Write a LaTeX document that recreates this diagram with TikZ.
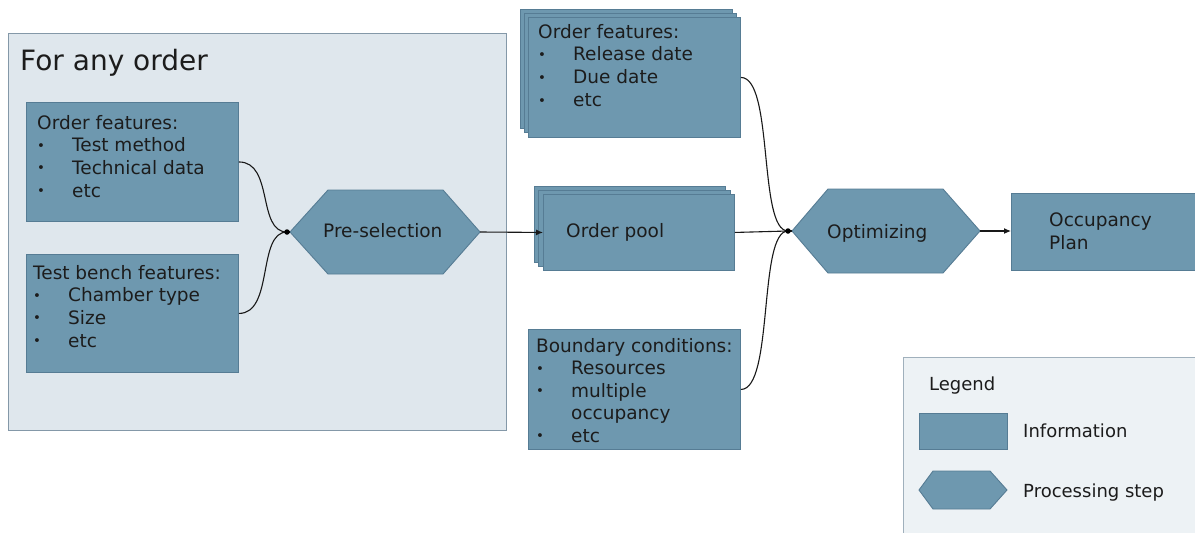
\documentclass[tikz,border=0pt]{standalone}
\usepackage{fontspec}
\setmainfont{DejaVu Sans}
\usetikzlibrary{arrows.meta}

\definecolor{infofill}{RGB}{110,152,175}
\definecolor{infoedge}{RGB}{86,124,148}
\definecolor{groupfill}{RGB}{223,231,237}
\definecolor{groupedge}{RGB}{132,152,168}
\definecolor{legendfill}{RGB}{237,242,245}
\definecolor{legendedge}{RGB}{160,176,188}
\definecolor{ink}{RGB}{28,28,28}

% small bullet followed by the item indent
\newcommand\itm{\makebox[35pt][l]{\raisebox{1.5pt}{\scalebox{0.72}{\textbullet}}}}

\begin{document}
\begin{tikzpicture}[x=1pt,y=-1pt,
  info/.style={draw=infoedge,fill=infofill,line width=0.9pt},
  infobox/.style 2 args={info,anchor=north west,inner sep=0pt,
    minimum width=#1,minimum height=#2},
  txt/.style={anchor=base west,inner sep=0pt,text=ink,
    font=\fontsize{18.5}{22}\selectfont},
  conn/.style={draw=black!90,line width=1.1pt},
  arr/.style={conn,-{Latex[length=7pt,width=6pt]}},
  dot/.style={circle,fill=black,inner sep=0pt,minimum size=5.5pt}]

\useasboundingbox (0,0) rectangle (1195,533);
\fill[white] (0,0) rectangle (1195,533);

% ---- group "For any order"
\node[draw=groupedge,fill=groupfill,line width=0.9pt,anchor=north west,
  inner sep=0pt,minimum width=498pt,minimum height=397pt] (group) at (8,33) {};
\node[txt,font=\fontsize{28}{32}\selectfont] (grouptitle) at (20,70) {For any order};

% order features (static)
\node[infobox={212pt}{119pt}] (ofa) at (26,102) {};
\foreach \t [count=\i from 0] in {{Order features:},{\itm Test method},{\itm Technical data},{\itm etc}}
  \node[txt] (ofa-\i) at (37,129+22.7*\i) {\t};

% test bench features
\node[infobox={212pt}{118pt}] (tb) at (26,254) {};
\foreach \t [count=\i from 0] in {{Test bench features:},{\itm Chamber type},{\itm Size},{\itm etc}}
  \node[txt] (tb-\i) at (33,279+22.7*\i) {\t};

% pre-selection step
\coordinate (preW) at (290,232);
\coordinate (preE) at (480,232);
\path[info] (preW) -- (328,190) -- (443,190) -- (preE) -- (443,274) -- (328,274) -- cycle;
\node[txt] (pre) at (323,237) {Pre-selection};

% ---- order features (dynamic), stacked
\node[infobox={212pt}{119pt}] (ofb3) at (520,9) {};
\node[infobox={212pt}{119pt}] (ofb2) at (524,13) {};
\node[infobox={212pt}{120pt}] (ofb) at (528,17) {};
\foreach \t [count=\i from 0] in {{Order features:},{\itm Release date},{\itm Due date},{\itm etc}}
  \node[txt] (ofb-\i) at (538,38+22.9*\i) {\t};

% order pool, stacked
\node[infobox={191pt}{76pt}] (pool3) at (534,186) {};
\node[infobox={192pt}{76pt}] (pool2) at (538,190) {};
\node[infobox={191pt}{76pt}] (pool) at (543,194) {};
\node[txt] (pooltext) at (566,237) {Order pool};

% boundary conditions
\node[infobox={212pt}{120pt}] (bc) at (528,329) {};
\foreach \t [count=\i from 0] in {{Boundary conditions:},{\itm Resources},{\itm multiple},{\hspace*{35pt}occupancy},{\itm etc}}
  \node[txt] (bc-\i) at (536,352+22.5*\i) {\t};

% optimizing step
\coordinate (optW) at (792,231);
\coordinate (optE) at (980,231);
\path[info] (optW) -- (828,189) -- (943,189) -- (optE) -- (943,273) -- (828,273) -- cycle;
\node[txt] (opt) at (827,238) {Optimizing};

% occupancy plan
\node[infobox={185pt}{77pt}] (plan) at (1011,193) {};
\node[txt] (plan-0) at (1049,226) {Occupancy};
\node[txt] (plan-1) at (1049,249) {Plan};

% ---- connectors
\coordinate (m1) at (287,232);
\coordinate (m2) at (788,231);
\draw[conn] (ofa.east) .. controls +(35,0) and +(-30,0) .. (m1);
\draw[conn] (tb.east) .. controls +(35,0) and +(-30,0) .. (m1);
\draw[conn] (m1) -- (preW);
\node[dot] (d1) at (m1) {};
\draw[arr] (preE) -- (pool.west);

\draw[conn] (ofb.east) .. controls +(33,0) and +(-30,0) .. (m2);
\draw[conn] (bc.east) .. controls +(33,0) and +(-30,0) .. (m2);
\draw[conn] (pool.east) -- (m2);
\draw[conn] (m2) -- (optW);
\node[dot] (d2) at (m2) {};
\draw[arr] (optE) -- (plan.west |- optE);

% ---- legend
\node[draw=legendedge,fill=legendfill,line width=0.9pt,anchor=north west,
  inner sep=0pt,minimum width=320pt,minimum height=200pt] (legend) at (903,357) {};
\node[txt,font=\fontsize{18}{22}\selectfont] (legendtitle) at (929,390) {Legend};
\node[infobox={88pt}{36pt}] (leginfo) at (919,413) {};
\node[txt,font=\fontsize{18}{22}\selectfont] (leginfotext) at (1023,437) {Information};
\path[info] (919,490) -- (933,471) -- (990,471) -- (1007,490) -- (990,509) -- (933,509) -- cycle;
\node[txt,font=\fontsize{18}{22}\selectfont] (legsteptext) at (1023,497) {Processing step};

\end{tikzpicture}
\end{document}
